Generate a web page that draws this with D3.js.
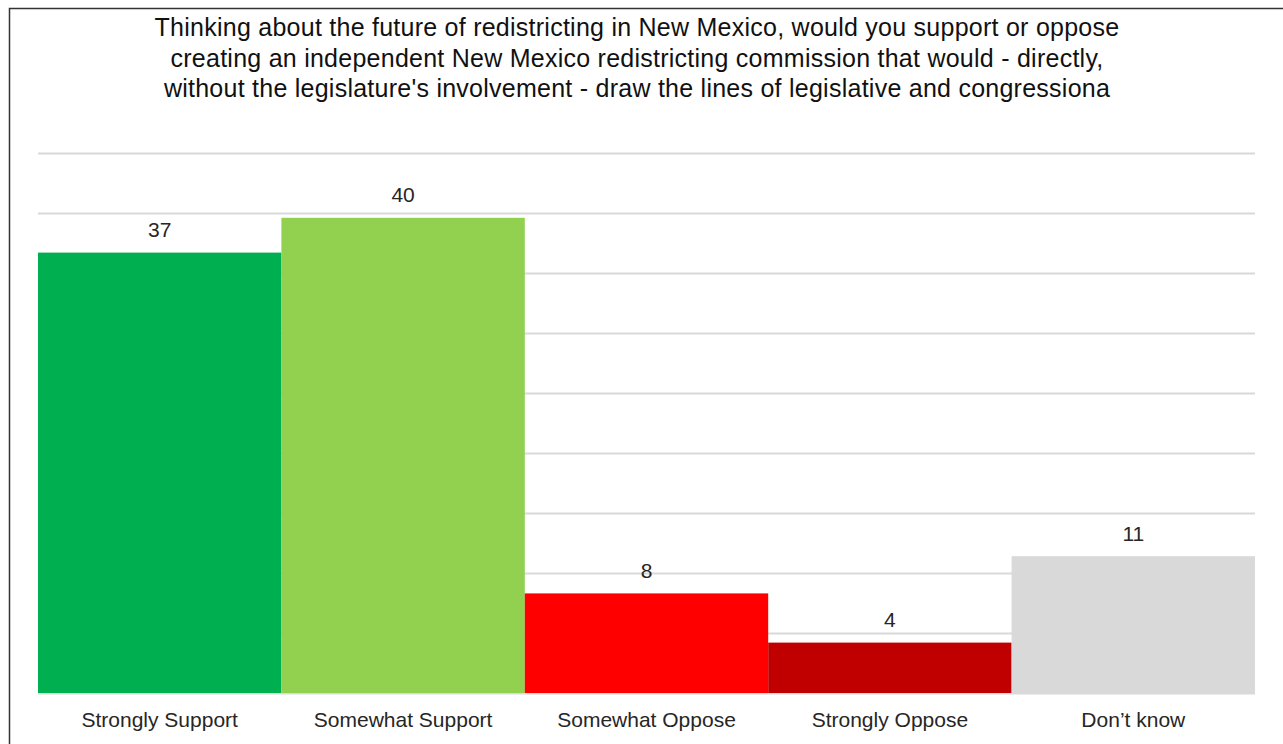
<!DOCTYPE html>
<html>
<head>
<meta charset="utf-8">
<script src="https://cdn.jsdelivr.net/npm/d3@7"></script>
<style>
  html, body { margin: 0; padding: 0; background: #fff; }
  svg { display: block; }
</style>
</head>
<body>
<svg id="chart" width="1283" height="744"></svg>
<script>
const titleLines = [
  "Thinking about the future of redistricting in New Mexico, would you support or oppose",
  "creating an independent New Mexico redistricting commission that would - directly,",
  "without the legislature's involvement - draw the lines of legislative and congressiona"
];
const categories = ["Strongly Support", "Somewhat Support", "Somewhat Oppose", "Strongly Oppose", "Don\u2019t know"];
const values = [36.7, 39.6, 8.3, 4.2, 11.4];
const colors = ["#00b050", "#92d050", "#ff0000", "#c00000", "#d9d9d9"];
const yTicks = [0, 5, 10, 15, 20, 25, 30, 35, 40, 45];

const svg = d3.select("#chart");
const W = 1283, H = 744;
const margin = { left: 38, right: 28, top: 153, bottom: 51 };

// frame
svg.append("rect")
  .attr("x", 9.5).attr("y", 8.5)
  .attr("width", W + 20).attr("height", H + 20)
  .attr("fill", "none").attr("stroke", "#333").attr("stroke-width", 1.5);

// title
const title = svg.append("g");
titleLines.forEach((t, i) => {
  title.append("text")
    .attr("x", 637).attr("y", 36 + i * 30.5)
    .attr("text-anchor", "middle")
    .attr("font-family", "'Liberation Sans', Arial, sans-serif")
    .attr("font-size", 25)
    .attr("letter-spacing", 0.25)
    .attr("fill", "#111")
    .text(t);
});

const x = d3.scaleBand().domain(categories).range([margin.left, W - margin.right]).padding(0);
const y = d3.scaleLinear().domain([0, 45]).range([H - margin.bottom, margin.top]);

// gridlines
svg.append("g")
  .attr("transform", `translate(${margin.left},0)`)
  .call(d3.axisLeft(y).tickValues(yTicks).tickSize(-(W - margin.right - margin.left)).tickFormat(""))
  .call(g => g.select(".domain").remove())
  .call(g => g.selectAll(".tick line").attr("stroke", "#d9d9d9").attr("stroke-width", 2));

// bars
svg.append("g").selectAll("rect")
  .data(categories)
  .join("rect")
  .attr("x", d => x(d))
  .attr("width", x.bandwidth())
  .attr("y", (d, i) => y(values[i]))
  .attr("height", (d, i) => y(0) - y(values[i]))
  .attr("fill", (d, i) => colors[i]);

// value labels
svg.append("g").selectAll("text")
  .data(categories)
  .join("text")
  .attr("x", d => x(d) + x.bandwidth() / 2)
  .attr("y", (d, i) => y(values[i]) - 15.5)
  .attr("text-anchor", "middle")
  .attr("font-family", "'Liberation Sans', Arial, sans-serif")
  .attr("font-size", 21)
  .attr("fill", "#262626")
  .text((d, i) => d3.format(".0f")(values[i]));

// x axis
svg.append("g")
  .attr("transform", `translate(0,${y(0)})`)
  .call(d3.axisBottom(x).tickSize(0).tickPadding(19))
  .call(g => g.select(".domain").remove())
  .call(g => g.selectAll(".tick text")
    .attr("font-family", "'Liberation Sans', Arial, sans-serif")
    .attr("font-size", 21)
    .attr("fill", "#262626"));
</script>
</body>
</html>
